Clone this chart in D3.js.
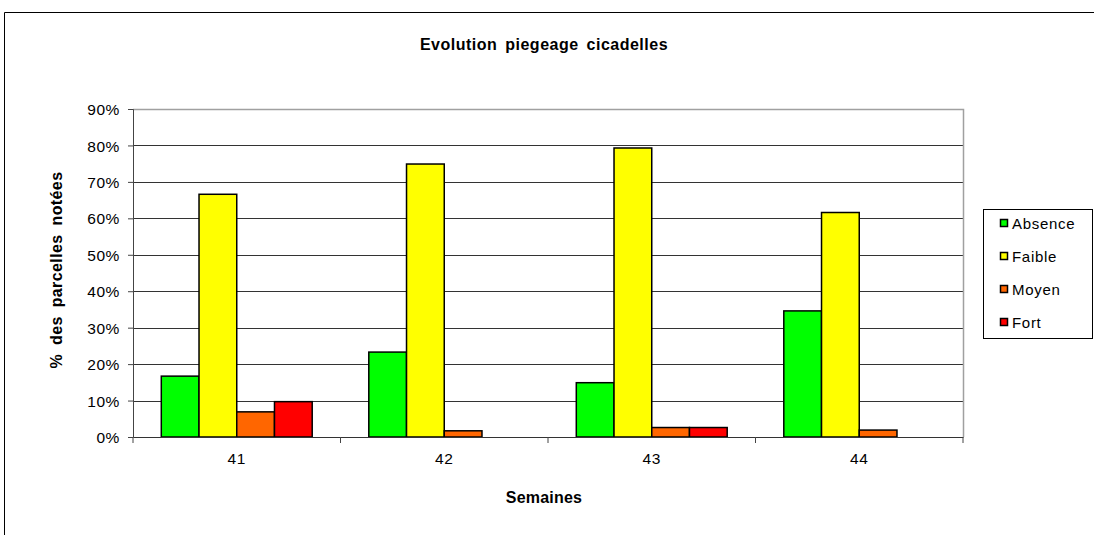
<!DOCTYPE html>
<html><head><meta charset="utf-8">
<script src="https://cdn.jsdelivr.net/npm/d3@7"></script>
<style>
html,body{margin:0;padding:0;background:#fff;}
text{font-family:"Liberation Sans",Arial,sans-serif;fill:#000;}
</style></head>
<body><svg id="c" width="1094" height="535"></svg>
<script>
const weeks = ["41","42","43","44"];
const series = ["Absence","Faible","Moyen","Fort"];
const colors = ["#00ff00","#ffff00","#ff6600","#ff0000"];
const absence = [0.167, 0.233, 0.149, 0.346];
const faible  = [0.666, 0.749, 0.793, 0.616];
const moyen   = [0.069, 0.017, 0.026, 0.019];
const fort    = [0.097, 0.000, 0.026, 0.000];
const yTicks = [0,0.1,0.2,0.3,0.4,0.5,0.6,0.7,0.8,0.9];
const values = [absence, faible, moyen, fort];

const svg = d3.select("#c");
svg.append("rect").attr("width",1094).attr("height",535).attr("fill","#fff");
svg.append("path").attr("d","M4.5,535V12.5H1094").attr("fill","none").attr("stroke","#000").attr("stroke-width",1);

const L=133, R=963, T=109, B=437;
const x = d3.scaleBand().domain(weeks).range([L,R]).padding(0);
const bw = x.bandwidth();
const xs = d3.scaleBand().domain(series).range([bw*0.75/5.5, bw*4.75/5.5]).padding(0);
const y = d3.scaleLinear().domain([0,0.9]).range([B,T]);

// gridlines
svg.append("g").selectAll("line").data(yTicks.filter(t=>t>0 && t<0.9)).join("line")
  .attr("x1",L).attr("x2",R).attr("y1",d=>Math.round(y(d))+0.5).attr("y2",d=>Math.round(y(d))+0.5)
  .attr("stroke","#333").attr("stroke-width",1.2);
// plot border top/right
svg.append("path").attr("d",`M${L},${T+0.5}H${R+0.5}V${B}`).attr("fill","none").attr("stroke","#a0a0a0").attr("stroke-width",1.5);

// bars
const data = [];
weeks.forEach((w,i)=>series.forEach((s,j)=>data.push({w,s,j,v:values[j][i]})));
svg.append("g").selectAll("rect").data(data.filter(d=>d.v>0)).join("rect")
  .attr("x",d=>x(d.w)+xs(d.s)).attr("width",xs.bandwidth())
  .attr("y",d=>y(d.v)).attr("height",d=>B-y(d.v))
  .attr("fill",d=>colors[d.j]).attr("stroke","#000").attr("stroke-width",1.5);

// y axis
const ya = svg.append("g").attr("transform",`translate(${L},0)`)
  .call(d3.axisLeft(y).tickValues(yTicks).tickFormat(d3.format(".0%")).tickSize(5).tickPadding(8));
ya.select(".domain").attr("stroke","#444").attr("stroke-width",1);
ya.selectAll(".tick line").attr("stroke","#444");
ya.selectAll("text").attr("font-size",15.5).attr("letter-spacing","0.6px").attr("font-family","Liberation Sans, Arial, sans-serif").attr("fill","#222").attr("dy","0.36em");

// x axis
const xa = svg.append("g").attr("transform",`translate(0,${B})`)
  .call(d3.axisBottom(x).tickSize(0).tickPadding(16));
xa.select(".domain").attr("stroke","#333").attr("stroke-width",1.2);
xa.selectAll("text").attr("font-size",15.5).attr("letter-spacing","0.6px").attr("font-family","Liberation Sans, Arial, sans-serif").attr("fill","#222");
svg.append("g").selectAll("line").data(d3.range(weeks.length+1)).join("line")
  .attr("x1",i=>L+i*bw).attr("x2",i=>L+i*bw).attr("y1",B).attr("y2",B+6).attr("stroke","#444");

// titles
svg.append("text").attr("x",544).attr("y",50).attr("text-anchor","middle")
  .attr("font-size",16).attr("font-weight","bold").attr("letter-spacing","0.5px").attr("word-spacing","3px").text("Evolution piegeage cicadelles");
svg.append("text").attr("x",544).attr("y",503).attr("text-anchor","middle")
  .attr("font-size",16).attr("font-weight","bold").attr("letter-spacing","0.2px").text("Semaines");
svg.append("text").attr("transform",`translate(62,270) rotate(-90)`).attr("text-anchor","middle")
  .attr("font-size",16).attr("font-weight","bold").attr("letter-spacing","0.4px").attr("word-spacing","4px").text("% des parcelles notées");

// legend
const lg = svg.append("g");
lg.append("rect").attr("x",983.5).attr("y",209.5).attr("width",109).attr("height",129).attr("fill","#fff").attr("stroke","#000").attr("stroke-width",1);
const li = lg.selectAll("g").data(series).join("g").attr("transform",(d,i)=>`translate(1000,${224+i*33})`);
li.append("rect").attr("x",0.5).attr("y",-4.5).attr("width",7).attr("height",7).attr("fill",(d,i)=>colors[i]).attr("stroke","#000").attr("stroke-width",1.5);
li.append("text").attr("x",12).attr("y",5).attr("font-size",15).attr("letter-spacing","0.7px").attr("fill","#222").text(d=>d);
</script></body></html>
